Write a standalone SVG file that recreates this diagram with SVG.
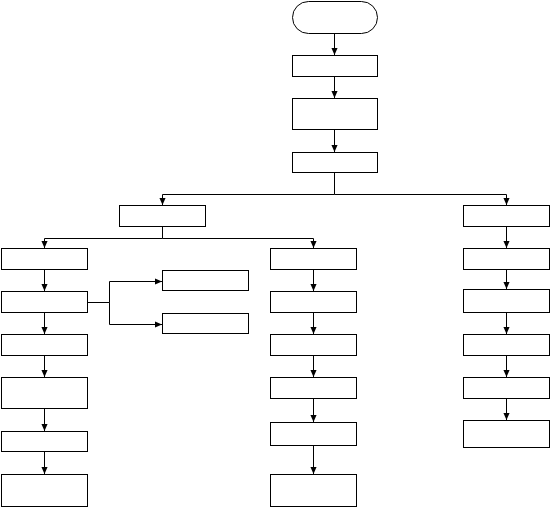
<svg xmlns="http://www.w3.org/2000/svg" width="550" height="507" viewBox="0 0 550 507">
<style>
.n{fill:#fff;stroke:#000;stroke-width:1}
.c{fill:none;stroke:#000;stroke-width:1}
</style>
<defs>
<marker id="a" viewBox="0 0 8 8" refX="8" refY="4" markerWidth="7" markerHeight="7" markerUnits="userSpaceOnUse" orient="auto">
<path d="M0,0.5 L8,4 L0,7.5 z" fill="#000"/>
</marker>
</defs>
<rect width="550" height="507" fill="#fff"/>
<g id="connectors">
<path class="c" d="M334.5,34 V55" marker-end="url(#a)"/>
<path class="c" d="M334.5,77 V98" marker-end="url(#a)"/>
<path class="c" d="M334.5,130 V152" marker-end="url(#a)"/>
<path class="c" d="M334.5,173 V194.5 H162.5 V205" marker-end="url(#a)"/>
<path class="c" d="M334.5,194.5 H506.5 V205" marker-end="url(#a)"/>
<path class="c" d="M162.5,227 V238.5 H44.5 V248" marker-end="url(#a)"/>
<path class="c" d="M162.5,238.5 H313.5 V248" marker-end="url(#a)"/>
<path class="c" d="M44.5,270 V291" marker-end="url(#a)"/>
<path class="c" d="M44.5,313 V334" marker-end="url(#a)"/>
<path class="c" d="M44.5,356 V377" marker-end="url(#a)"/>
<path class="c" d="M44.5,409 V431" marker-end="url(#a)"/>
<path class="c" d="M44.5,452 V474" marker-end="url(#a)"/>
<path class="c" d="M87,302.5 H109.5 V281.5 H162" marker-end="url(#a)"/>
<path class="c" d="M109.5,302.5 V324.5 H162" marker-end="url(#a)"/>
<path class="c" d="M313.5,270 V291" marker-end="url(#a)"/>
<path class="c" d="M313.5,313 V334" marker-end="url(#a)"/>
<path class="c" d="M313.5,356 V377" marker-end="url(#a)"/>
<path class="c" d="M313.5,399 V422" marker-end="url(#a)"/>
<path class="c" d="M313.5,446 V474" marker-end="url(#a)"/>
<path class="c" d="M506.5,227 V248" marker-end="url(#a)"/>
<path class="c" d="M506.5,270 V289" marker-end="url(#a)"/>
<path class="c" d="M506.5,313 V334" marker-end="url(#a)"/>
<path class="c" d="M506.5,356 V377" marker-end="url(#a)"/>
<path class="c" d="M506.5,399 V420" marker-end="url(#a)"/>
</g>
<g id="start"><rect class="n" x="292.5" y="1.5" width="85" height="32" rx="16"/></g>
<g id="t2"><rect class="n" x="292.5" y="55.5" width="85" height="21"/></g>
<g id="t3"><rect class="n" x="292.5" y="98.5" width="85" height="31"/></g>
<g id="t4"><rect class="n" x="292.5" y="152.5" width="85" height="20"/></g>
<g id="b1"><rect class="n" x="119.5" y="205.5" width="86" height="21"/></g>
<g id="r0"><rect class="n" x="463.5" y="205.5" width="86" height="21"/></g>
<g id="l1"><rect class="n" x="1.5" y="248.5" width="86" height="21"/></g>
<g id="l2"><rect class="n" x="1.5" y="291.5" width="86" height="21"/></g>
<g id="l3"><rect class="n" x="1.5" y="334.5" width="86" height="21"/></g>
<g id="l4"><rect class="n" x="1.5" y="377.5" width="86" height="31"/></g>
<g id="l5"><rect class="n" x="1.5" y="431.5" width="86" height="20"/></g>
<g id="l6"><rect class="n" x="1.5" y="474.5" width="86" height="32"/></g>
<g id="s1"><rect class="n" x="162.5" y="270.5" width="86" height="20"/></g>
<g id="s2"><rect class="n" x="162.5" y="313.5" width="86" height="20"/></g>
<g id="m1"><rect class="n" x="270.5" y="248.5" width="86" height="21"/></g>
<g id="m2"><rect class="n" x="270.5" y="291.5" width="86" height="21"/></g>
<g id="m3"><rect class="n" x="270.5" y="334.5" width="86" height="21"/></g>
<g id="m4"><rect class="n" x="270.5" y="377.5" width="86" height="21"/></g>
<g id="m5"><rect class="n" x="270.5" y="422.5" width="86" height="23"/></g>
<g id="m6"><rect class="n" x="270.5" y="474.5" width="86" height="32"/></g>
<g id="r1"><rect class="n" x="463.5" y="248.5" width="86" height="21"/></g>
<g id="r2"><rect class="n" x="463.5" y="289.5" width="86" height="23"/></g>
<g id="r3"><rect class="n" x="463.5" y="334.5" width="86" height="21"/></g>
<g id="r4"><rect class="n" x="463.5" y="377.5" width="86" height="21"/></g>
<g id="r5"><rect class="n" x="463.5" y="420.5" width="86" height="27"/></g>
</svg>
